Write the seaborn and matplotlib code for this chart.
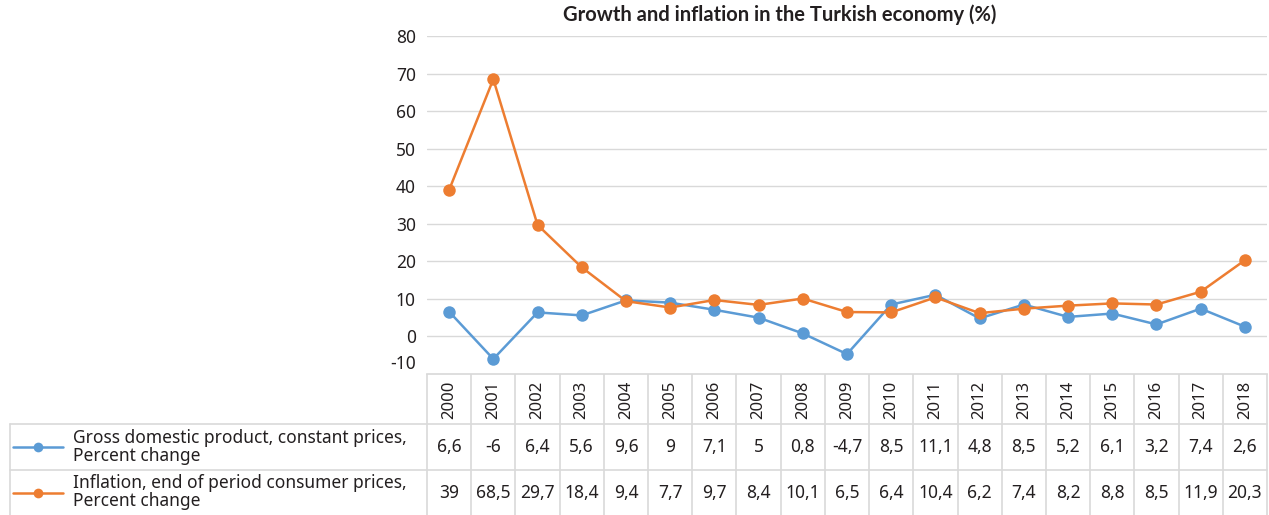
import numpy as np
import pandas as pd
import matplotlib
matplotlib.use("Agg")
import matplotlib.pyplot as plt
import matplotlib.transforms as mtransforms
import seaborn as sns

# Data
years = [2000, 2001, 2002, 2003, 2004, 2005, 2006, 2007, 2008, 2009,
         2010, 2011, 2012, 2013, 2014, 2015, 2016, 2017, 2018]
gdp = [6.6, -6, 6.4, 5.6, 9.6, 9, 7.1, 5, 0.8, -4.7,
       8.5, 11.1, 4.8, 8.5, 5.2, 6.1, 3.2, 7.4, 2.6]
inflation = [39, 68.5, 29.7, 18.4, 9.4, 7.7, 9.7, 8.4, 10.1, 6.5,
             6.4, 10.4, 6.2, 7.4, 8.2, 8.8, 8.5, 11.9, 20.3]
series_names = ["Gross domestic product, constant prices,\nPercent change",
                "Inflation, end of period consumer prices,\nPercent change"]
y_ticks = [-10, 0, 10, 20, 30, 40, 50, 60, 70, 80]
title = "Growth and inflation in the Turkish economy (%)"

colors = ["#5B9BD5", "#ED7D31"]
grid_col = "#d9d9d9"
text_col = "#231f20"


def fmt(v):
    s = f"{v:g}"
    return s.replace(".", ",")


sns.set_theme(style="white")
plt.rcParams["font.family"] = ["Noto Sans", "DejaVu Sans"]

df = pd.DataFrame({
    "idx": list(range(len(years))) * 2,
    "value": gdp + inflation,
    "series": [series_names[0]] * len(years) + [series_names[1]] * len(years),
})

W, H = 1269, 515
fig = plt.figure(figsize=(W / 100, H / 100), dpi=100)

# plot area in pixel terms of the reference
left, right, top, bottom = 427, 1267, 36, 374
ax = fig.add_axes([left / W, 1 - bottom / H, (right - left) / W, (bottom - top) / H])
sns.lineplot(data=df, x="idx", y="value", hue="series", palette=colors,
             marker="o", markersize=9, markeredgewidth=0, linewidth=1.8,
             legend=False, ax=ax)
ax.set_xlim(-0.5, len(years) - 0.5)
ax.set_ylim(-10, 80)
ax.set_yticks(y_ticks)
ax.set_yticklabels([str(t) for t in y_ticks], fontsize=12.5, color=text_col)
ax.set_xticks([])
ax.set_xlabel("")
ax.set_ylabel("")
ax.tick_params(axis="y", length=0, pad=8)
for t in y_ticks[1:]:
    ax.axhline(t, color=grid_col, lw=1, zorder=0)
for s in ["left", "right", "top"]:
    ax.spines[s].set_visible(False)
ax.spines["bottom"].set_color(grid_col)
# nudge the -10 label up like the original
lab = ax.get_yticklabels()[0]
lab.set_transform(lab.get_transform() + mtransforms.ScaledTranslation(0, 12 / 100, fig.dpi_scale_trans))

fig.text(780 / W, 1 - 15 / H, title, ha="center", va="center",
         fontsize=14.5, fontweight="bold", color=text_col,
         family=["Lato", "Open Sans", "DejaVu Sans"])

# data table below the plot, drawn in reference pixel coordinates
tab = fig.add_axes([0, 0, 1, (H - bottom) / H])
tab.set_xlim(0, W)
tab.set_ylim(H, bottom)
tab.axis("off")
col_w = (right - left) / len(years)
row_y = [bottom, 424, 470, H]

for i in range(len(years) + 1):
    x = left + i * col_w
    tab.plot([x, x], [bottom, H], color=grid_col, lw=1.2)
tab.plot([10, 10], [row_y[1], H], color=grid_col, lw=1.2)
for y in row_y[1:3]:
    tab.plot([10, right], [y, y], color=grid_col, lw=1.2)

for i, yr in enumerate(years):
    xc = left + (i + 0.5) * col_w
    tab.text(xc, (row_y[0] + row_y[1]) / 2 + 1, str(yr), rotation=90,
             ha="center", va="center", fontsize=12, color=text_col)
    for r, vals in enumerate([gdp, inflation]):
        tab.text(xc, (row_y[r + 1] + row_y[r + 2]) / 2, fmt(vals[i]),
                 ha="center", va="center", fontsize=12.5, color=text_col)

for r, name in enumerate(series_names):
    yc = (row_y[r + 1] + row_y[r + 2]) / 2
    tab.plot([13, 63], [yc, yc], color=colors[r], lw=1.8)
    tab.plot([38], [yc], "o", color=colors[r], markersize=7, markeredgewidth=0)
    tab.text(73, yc, name, ha="left", va="center", fontsize=12.5,
             color=text_col, linespacing=1.0)

fig.savefig("out.png", dpi=100)
